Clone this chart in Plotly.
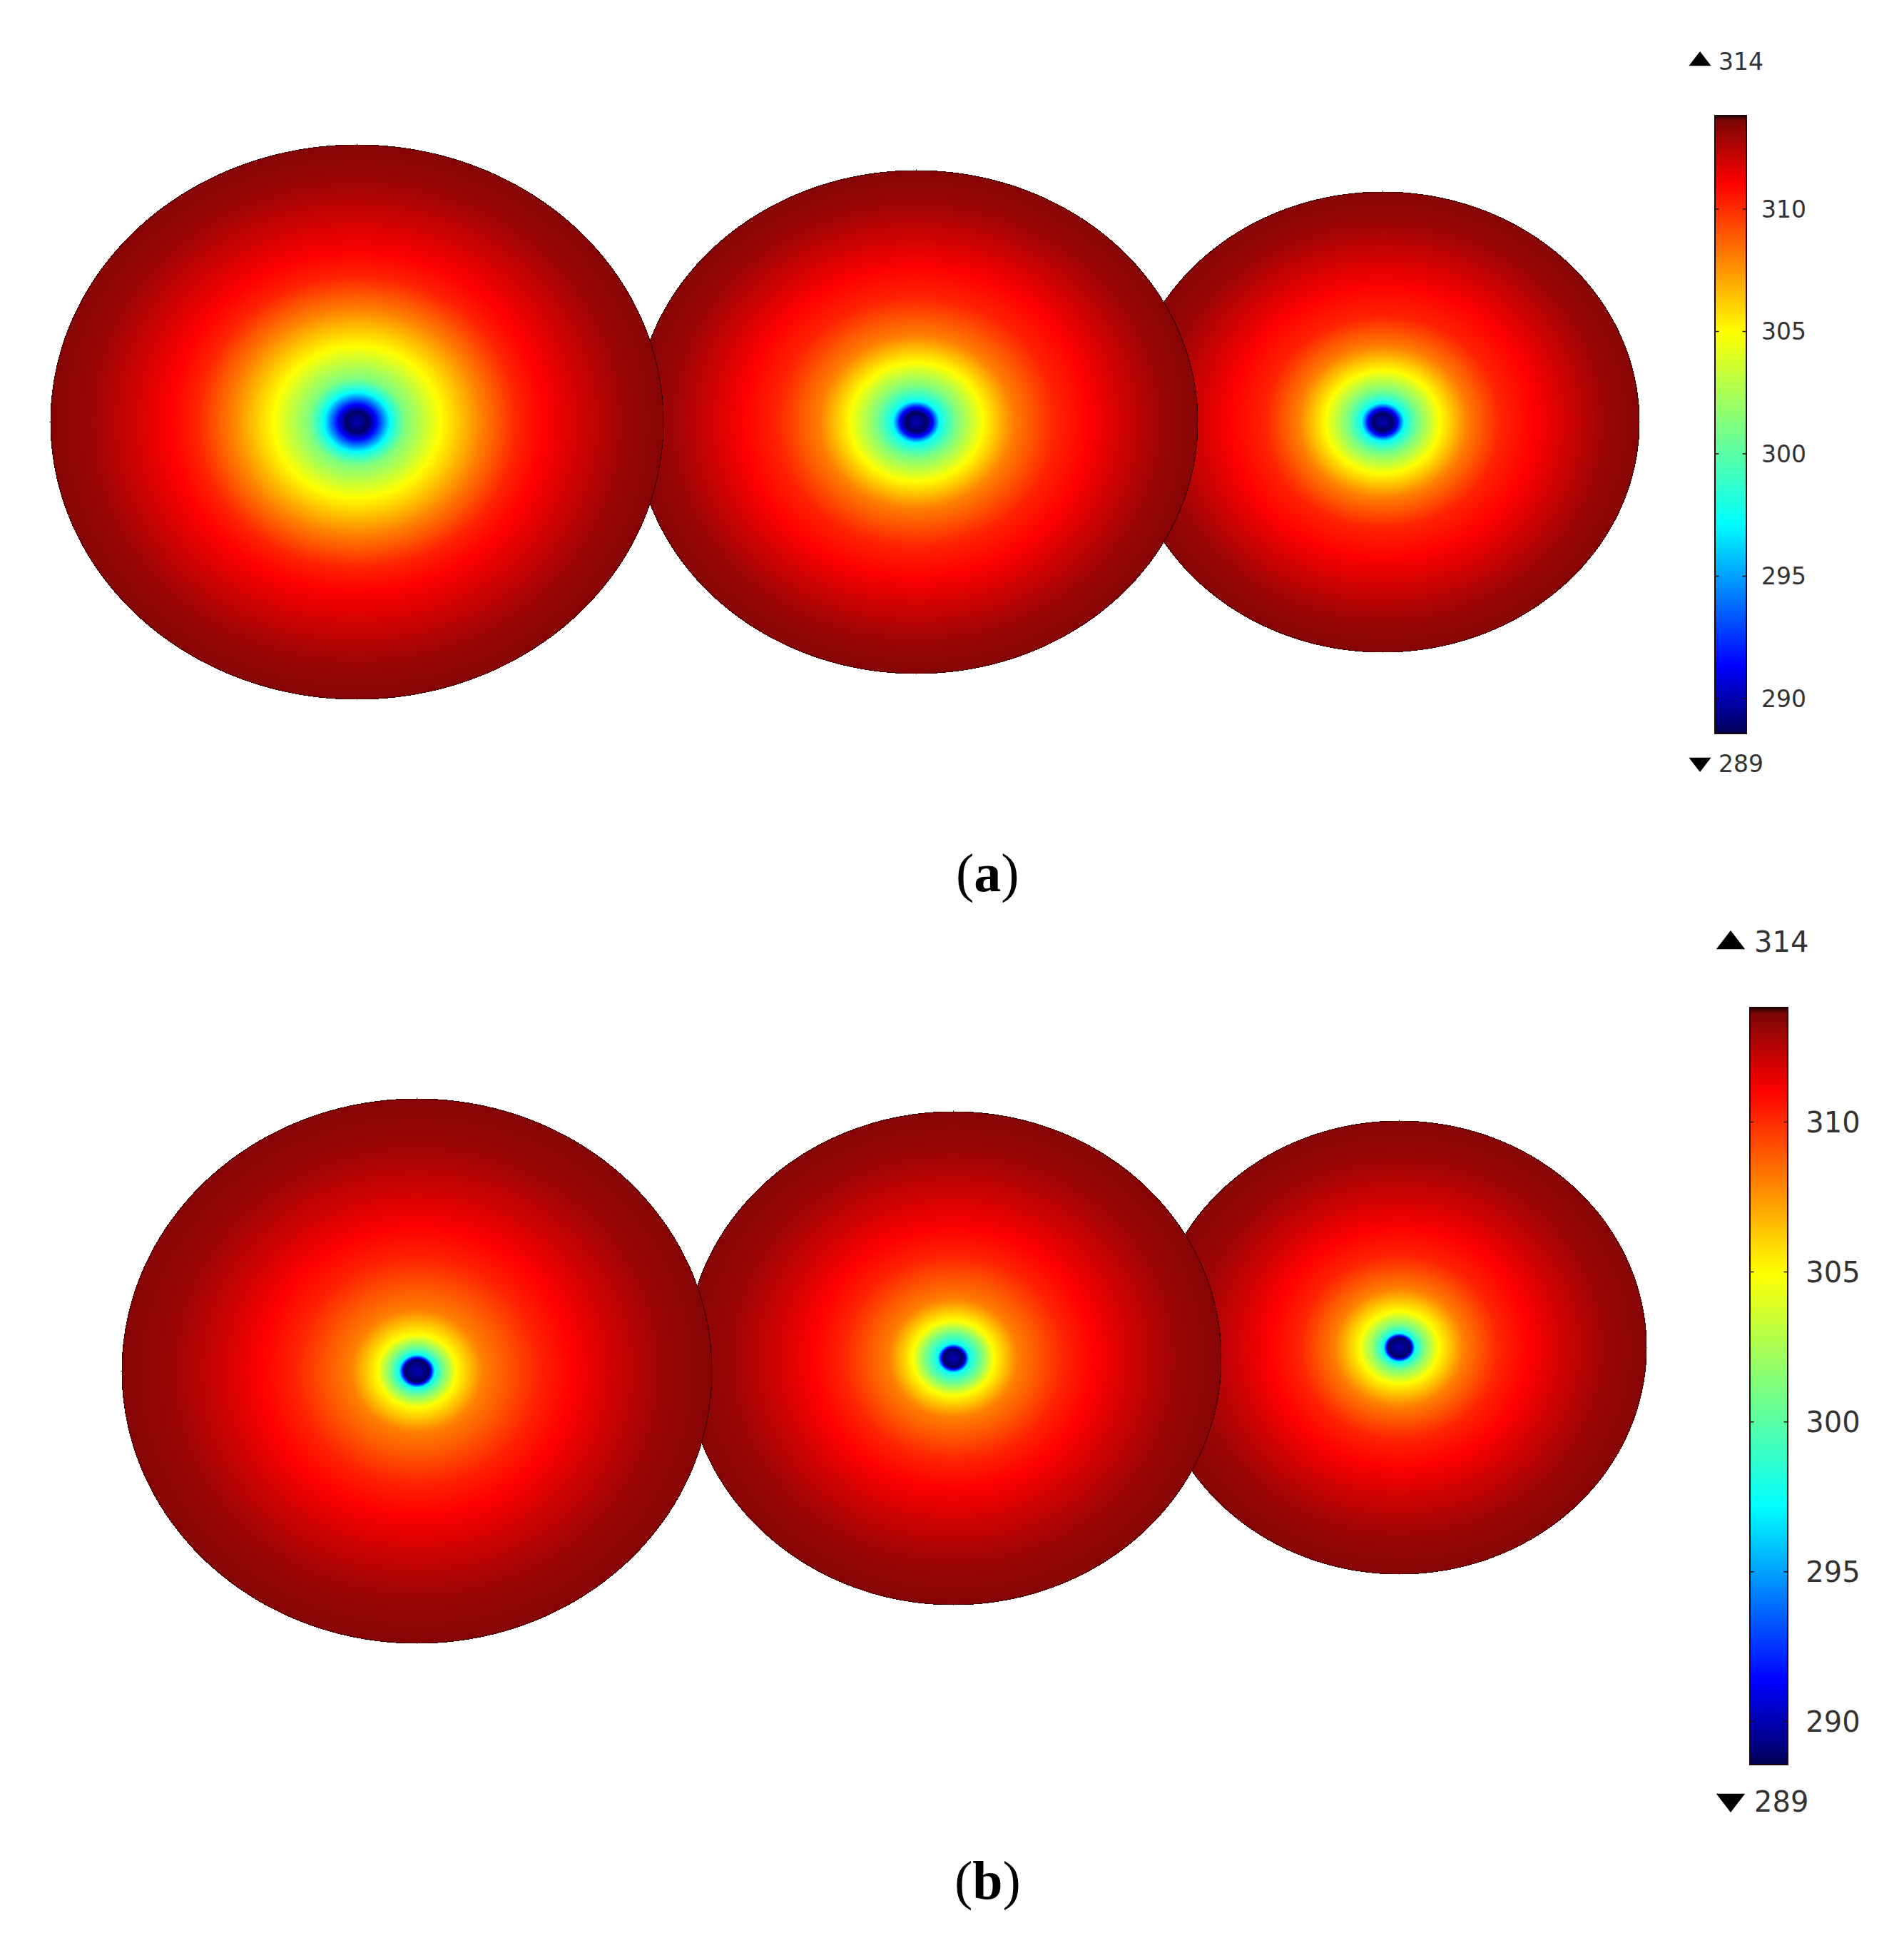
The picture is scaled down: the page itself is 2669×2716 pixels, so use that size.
import numpy as np
import plotly.graph_objects as go

W, H = 2669, 2716

# temperature levels read along the spheres, from the hole to the rim (K)
temp_levels = [290.0, 288.8, 291.4, 297.4, 301.2, 305.0, 308.0, 310.2, 311.0, 312.0, 313.0, 313.4, 313.82]

# radius (px along x) where each level is reached, one list per sphere
radii_a1 = [0, 16, 27, 47, 67, 117, 175, 225, 260, 315, 375, 427, 430]
radii_a2 = [0, 15, 23, 33, 57, 93, 135, 195, 240, 290, 345, 392, 395]
radii_a3 = [0, 14, 21, 30, 50, 80, 118, 165, 210, 260, 312, 357, 360]
radii_b1 = [0, 17, 20, 25, 38, 55, 92, 170, 215, 275, 345, 411, 414]
radii_b2 = [0, 14, 17, 22, 40, 57, 90, 155, 195, 250, 315, 373, 376]
radii_b3 = [0, 15, 18, 22, 35, 55, 90, 140, 180, 230, 290, 344, 347]

# sphere outlines in image pixels: cx, cy, rx, ry
# later entries are drawn on top, so the left sphere overlaps the middle one
spheres_a = [(1938, 591, 360, 323, radii_a3), (1284, 591, 395, 353, radii_a2), (500, 591, 430, 389, radii_a1)]
spheres_b = [(1961, 1888, 347, 318, radii_b3), (1336, 1903, 376, 346, radii_b2), (584, 1921, 414, 382, radii_b1)]

bar_ticks = [290, 295, 300, 305, 310]
bar_min, bar_max = 288.57, 313.82

stops = [0, 0.03, 0.11, 0.34, 0.5, 0.65, 0.89, 0.992, 1]
stop_colors = ["#000050", "#00008a", "#0000ff", "#00ffff", "#7fff7f", "#ffff00", "#ff0000", "#7c0606", "#200000"]
jet = [[s, c] for s, c in zip(stops, stop_colors)]

fig = go.Figure()


def add_sphere(cx, cy, rx, ry, radii, axis):
    xs = np.arange(-rx, rx + 1)
    ys = np.arange(-ry, ry + 1)
    dx, dy = np.meshgrid(xs, ys)
    r = np.hypot(dx, dy * rx / ry)
    z = np.interp(r, radii, temp_levels).astype("float32")
    z[r > rx] = np.nan
    fig.add_trace(go.Heatmap(z=z, x0=cx - rx, dx=1, y0=cy - ry, dy=1, coloraxis=axis,
                             hoverinfo="skip"))


for s in spheres_a:
    add_sphere(*s, "coloraxis")
for s in spheres_b:
    add_sphere(*s, "coloraxis2")


def bar(left, top, width, height, size):
    return dict(
        x=left / W, xanchor="left", xpad=0,
        y=1 - top / H, yanchor="top", ypad=0,
        thickness=width, thicknessmode="pixels",
        len=height, lenmode="pixels",
        outlinecolor="#200808", outlinewidth=2,
        tickmode="array", tickvals=bar_ticks,
        ticks="outside", ticklen=size * 0.42, tickcolor="rgba(0,0,0,0)",
        tickfont=dict(family="DejaVu Sans", size=size, color="#333333"),
    )


bar_a = (2404, 162, 44, 866, 33)
bar_b = (2453, 1412, 53, 1061, 40)

annotations = []


def add_stubs(left, top, width, height, size):
    # short tick marks on both inner edges of the colour bar
    for v in bar_ticks:
        y = top + (bar_max - v) / (bar_max - bar_min) * height
        for edge, ax in ((left, 7), (left + width, -7)):
            annotations.append(dict(x=edge, y=y, xref="x", yref="y", text=" ", showarrow=True,
                                    arrowhead=0, arrowwidth=1.5, arrowcolor="#301010",
                                    ax=ax, ay=0, standoff=0, font=dict(size=1)))


add_stubs(*bar_a)
add_stubs(*bar_b)


def add_text(x, y, text, size, family="DejaVu Sans", color="#333333", anchor="left"):
    annotations.append(dict(x=x, y=y, xref="x", yref="y", text=text, showarrow=False,
                            xanchor=anchor, yanchor="middle",
                            font=dict(family=family, size=size, color=color)))


# max and min markers next to each bar
fig.add_trace(go.Scatter(x=[2383, 2383], y=[85.5, 1068.5], mode="markers", hoverinfo="skip",
                         marker=dict(symbol=["triangle-up", "triangle-down"], size=27, color="black")))
fig.add_trace(go.Scatter(x=[2426, 2426], y=[1321.5, 2522.5], mode="markers", hoverinfo="skip",
                         marker=dict(symbol=["triangle-up", "triangle-down"], size=35, color="black")))
add_text(2407, 86, "314", 33)
add_text(2407, 1070, "289", 33)
add_text(2457, 1320, "314", 40)
add_text(2457, 2525, "289", 40)

add_text(1384, 1223, "(<b>a</b>)", 76, "Liberation Serif", "black", "center")
add_text(1384, 2635, "(<b>b</b>)", 76, "Liberation Serif", "black", "center")

fig.update_layout(
    width=W, height=H,
    margin=dict(l=0, r=0, t=0, b=0),
    paper_bgcolor="white", plot_bgcolor="white",
    showlegend=False,
    xaxis=dict(range=[0, W], visible=False, fixedrange=True),
    yaxis=dict(range=[H, 0], visible=False, fixedrange=True),
    coloraxis=dict(colorscale=jet, cmin=bar_min, cmax=bar_max, colorbar=bar(*bar_a)),
    coloraxis2=dict(colorscale=jet, cmin=bar_min, cmax=bar_max, colorbar=bar(*bar_b)),
    annotations=annotations,
)

fig.write_html("out.html", config=dict(displayModeBar=False),
               post_script="document.body.style.margin='0';")
